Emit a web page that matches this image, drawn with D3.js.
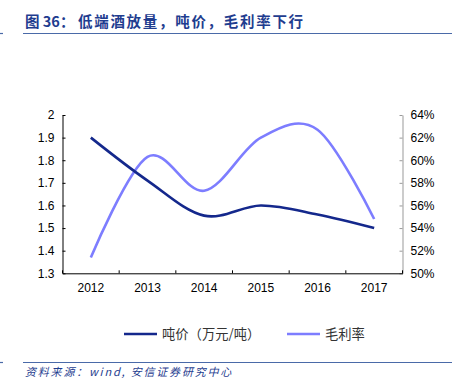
<!DOCTYPE html>
<html><head><meta charset="utf-8">
<script src="https://cdn.jsdelivr.net/npm/d3@7"></script>
<style>body{margin:0;background:#fff}svg{display:block}</style>
</head><body>
<svg id="c" width="457" height="390"></svg>
<script>
const years = ["2012","2013","2014","2015","2016","2017"];
const pricePerTon = [1.90, 1.71, 1.555, 1.60, 1.56, 1.50];
const grossMargin = [51.4, 60.3, 57.3, 62.0, 62.7, 54.8];
const leftTicks = [1.3,1.4,1.5,1.6,1.7,1.8,1.9,2];
const rightTicks = [50,52,54,56,58,60,62,64];
const seriesNames = ["吨价（万元/吨）","毛利率"];
const titlePrefix = "图 36：";
const titleMain = "低端酒放量，吨价，毛利率下行";
const source = "资料来源：wind, 安信证券研究中心";

const svg = d3.select("#c");
const font = "'Liberation Sans', Arial, 'Noto Sans CJK SC', sans-serif";
const cjk = "'Noto Sans CJK SC', sans-serif";
const dark = "#14288c", light = "#7d7dff", hdr = "#1f3d8f";

const L = 62.5, R = 402.5, T = 115, B = 273.3;
const x = d3.scaleBand().domain(years).range([L, R]);
const yL = d3.scaleLinear().domain([1.3, 2]).range([B, T]);
const yR = d3.scaleLinear().domain([50, 64]).range([B, T]);

// title
const tt = svg.append("text").attr("y", 27).attr("fill", hdr)
  .attr("font-family", cjk).attr("font-weight", "bold").attr("font-size", 14.5);
tt.append("tspan").attr("x", 25).text(titlePrefix);
tt.append("tspan").attr("x", 78).attr("letter-spacing", 1.7).text(titleMain);
svg.append("line").attr("x1", 23).attr("x2", 452).attr("y1", 33.5).attr("y2", 33.5)
  .attr("stroke", "#4a6aa8").attr("stroke-width", 1.2);
svg.append("line").attr("x1", 0).attr("x2", 3).attr("y1", 33.5).attr("y2", 33.5)
  .attr("stroke", "#4a6aa8").attr("stroke-width", 1.2);

// axes
const gL = svg.append("g").attr("transform", `translate(${L},0)`)
  .call(d3.axisLeft(yL).tickValues(leftTicks).tickSizeInner(-3).tickSizeOuter(0).tickPadding(8).tickFormat(d3.format("")));
gL.select(".domain").attr("stroke", "#000");
gL.selectAll(".tick line").attr("stroke", "#000");
gL.selectAll("text").attr("font-family", font).attr("font-size", 12).attr("fill", "#000");

const gR = svg.append("g").attr("transform", `translate(${R},0)`)
  .call(d3.axisRight(yR).tickValues(rightTicks).tickSizeInner(-3).tickSizeOuter(0).tickPadding(8).tickFormat(d => d + "%"));
gR.select(".domain").attr("stroke", "#999");
gR.selectAll(".tick line").attr("stroke", "#999");
gR.selectAll("text").attr("font-family", font).attr("font-size", 12).attr("fill", "#000");

const gX = svg.append("g").attr("transform", `translate(0,${B})`)
  .call(d3.axisBottom(x).tickSizeInner(0).tickSizeOuter(0).tickPadding(10));
gX.select(".domain").attr("stroke", "#000");
gX.selectAll("text").attr("font-family", font).attr("font-size", 12).attr("fill", "#000");
const bounds = years.map(d => x(d)).concat([R]);
gX.selectAll(".bt").data(bounds).enter().append("line")
  .attr("x1", d => d).attr("x2", d => d).attr("y1", 0).attr("y2", -3)
  .attr("stroke", "#000");

const cx = d => x(d) + x.bandwidth() / 2;
const lineL = d3.line().x((d, i) => cx(years[i])).y(d => yL(d)).curve(d3.curveCardinal.tension(0));
const lineR = d3.line().x((d, i) => cx(years[i])).y(d => yR(d)).curve(d3.curveCardinal.tension(0));
svg.append("path").attr("d", lineR(grossMargin)).attr("fill", "none")
  .attr("stroke", light).attr("stroke-width", 2.6);
svg.append("path").attr("d", lineL(pricePerTon)).attr("fill", "none")
  .attr("stroke", dark).attr("stroke-width", 2.6);

// legend
const leg = [{c: dark, x: 124, t: seriesNames[0]}, {c: light, x: 287, t: seriesNames[1]}];
leg.forEach(l => {
  svg.append("line").attr("x1", l.x).attr("x2", l.x + 33).attr("y1", 334).attr("y2", 334)
    .attr("stroke", l.c).attr("stroke-width", 2.6);
  svg.append("text").attr("x", l.x + 38).attr("y", 339).attr("font-family", cjk)
    .attr("font-size", 13.3).attr("fill", "#333").text(l.t);
});

// footer
svg.append("line").attr("x1", 23).attr("x2", 452).attr("y1", 362.5).attr("y2", 362.5)
  .attr("stroke", "#4a6aa8").attr("stroke-width", 1.2);
svg.append("line").attr("x1", 0).attr("x2", 3).attr("y1", 362.5).attr("y2", 362.5)
  .attr("stroke", "#4a6aa8").attr("stroke-width", 1.2);
svg.append("text").attr("x", 25).attr("y", 376).attr("font-family", cjk)
  .attr("font-style", "italic").attr("font-size", 11).attr("letter-spacing", 1.8)
  .attr("fill", hdr).text(source);
</script>
</body></html>
